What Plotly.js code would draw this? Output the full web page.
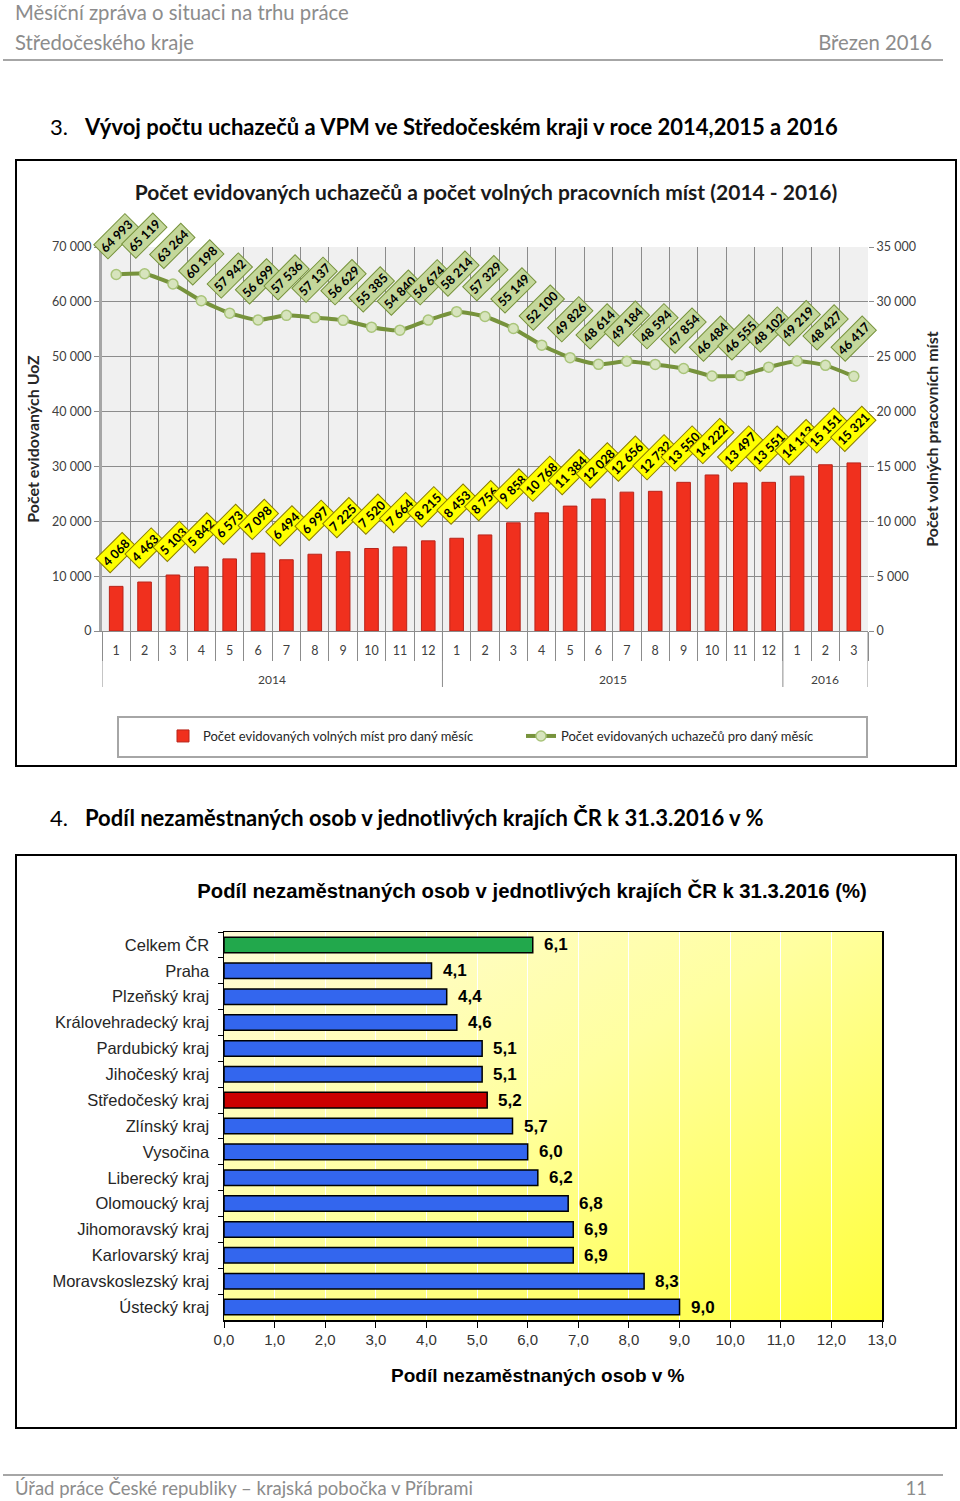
<!DOCTYPE html>
<html>
<head>
<meta charset="utf-8">
<script src="https://cdn.plot.ly/plotly-3.0.1.min.js"></script>
<style>
  html,body{margin:0;padding:0;background:#fff;}
  body{width:960px;height:1501px;position:relative;overflow:hidden;font-family:Lato,"Open Sans",sans-serif;}
  .t{position:absolute;white-space:nowrap;line-height:24px;}
  .hdr{color:#8c8c8c;font-size:20.3px;}
  .ftr{color:#8c8c8c;font-size:18.5px;}
  .sec{color:#000;font-size:22px;}
  .sec b{font-weight:700;}
  .rule{position:absolute;left:3px;width:940px;height:2px;background:#a6a6a6;}
  .box{position:absolute;left:15px;width:938px;border:2px solid #000;background:#fff;}
</style>
</head>
<body>
<div class="t hdr" style="left:15px;top:0px">Měsíční zpráva o situaci na trhu práce</div>
<div class="t hdr" style="left:15px;top:30px">Středočeského kraje</div>
<div class="t hdr" style="right:28px;top:30px">Březen 2016</div>
<div class="rule" style="top:59px"></div>

<div class="t sec" style="left:50px;top:115px">3.</div>
<div class="t sec" style="left:85px;top:115px"><b>Vývoj počtu uchazečů a VPM ve Středočeském kraji v roce 2014,2015 a 2016</b></div>

<div class="box" style="top:159px;height:604px"><div id="c1" style="width:938px;height:604px"></div></div>

<div class="t sec" style="left:50px;top:806px">4.</div>
<div class="t sec" style="left:85px;top:806px"><b>Podíl nezaměstnaných osob v jednotlivých krajích ČR k 31.3.2016 v %</b></div>

<div class="box" style="top:854px;height:571px"><div id="c2" style="width:938px;height:571px"></div></div>

<div class="rule" style="top:1474px"></div>
<div class="t ftr" style="left:15px;top:1476px">Úřad práce České republiky – krajská pobočka v Příbrami</div>
<div class="t ftr" style="right:33px;top:1476px">11</div>

<script>
// ---------- DATA: chart 1 ----------
const monthLabels = ['1','2','3','4','5','6','7','8','9','10','11','12',
                     '1','2','3','4','5','6','7','8','9','10','11','12',
                     '1','2','3'];
const yearLabels = ['2014','2015','2016'];
const monthsPerYear = [12, 12, 3];
const uchazeci = [64993, 65119, 63264, 60198, 57942, 56699, 57536, 57137, 56629, 55385, 54840, 56674,
                  58214, 57329, 55149, 52100, 49826, 48614, 49184, 48594, 47854, 46484, 46555, 48102,
                  49219, 48427, 46417];
const vpm = [4068, 4463, 5103, 5842, 6573, 7098, 6494, 6997, 7225, 7520, 7664, 8215,
             8453, 8756, 9858, 10768, 11384, 12028, 12656, 12732, 13550, 14222, 13497, 13551,
             14113, 15151, 15321];
const seriesNames = ['Počet evidovaných volných míst pro daný měsíc', 'Počet evidovaných uchazečů pro daný měsíc'];
const chart1Title = 'Počet evidovaných uchazečů a počet volných pracovních míst (2014 - 2016)';
const yLeftTitle = 'Počet evidovaných UoZ';
const yRightTitle = 'Počet volných pracovních míst';

// ---------- DATA: chart 2 ----------
const regions = ['Celkem ČR','Praha','Plzeňský kraj','Královehradecký kraj','Pardubický kraj','Jihočeský kraj',
                 'Středočeský kraj','Zlínský kraj','Vysočina','Liberecký kraj','Olomoucký kraj',
                 'Jihomoravský kraj','Karlovarský kraj','Moravskoslezský kraj','Ústecký kraj'];
const podil = [6.1, 4.1, 4.4, 4.6, 5.1, 5.1, 5.2, 5.7, 6.0, 6.2, 6.8, 6.9, 6.9, 8.3, 9.0];
const chart2Title = 'Podíl nezaměstnaných osob v jednotlivých krajích ČR k 31.3.2016 (%)';
const xTitle2 = 'Podíl nezaměstnaných osob v %';

// ---------- helpers ----------
const fmtThousands = v => String(v).replace(/\B(?=(\d{3})+(?!\d))/g, ' ');
const fmtDec = v => v.toFixed(1).replace('.', ',');
const idx = monthLabels.map((_, i) => i);

const yearBounds = [-0.5];
monthsPerYear.forEach(n => yearBounds.push(yearBounds[yearBounds.length - 1] + n));
const monthBounds = idx.map(i => i - 0.5).concat([idx.length - 0.5]);

const FONT = 'Lato, "Open Sans", sans-serif';
const GRID = '#8c8c8c';

// ---------- chart 1 ----------
const plotH1 = 604 - 86 - 134;
const ann1 = [];
uchazeci.forEach((v, i) => ann1.push({
  x: i, y: v, xref: 'x', yref: 'y', text: fmtThousands(v), showarrow: false,
  textangle: -45, yshift: 38, bgcolor: '#c4d79b', bordercolor: '#77933c', borderwidth: 1, borderpad: 2,
  font: {family: FONT, size: 12.5, color: '#000', weight: 'bold'}
}));
vpm.forEach((v, i) => ann1.push({
  x: i, y: v, xref: 'x', yref: 'y2', text: fmtThousands(v), showarrow: false,
  textangle: -45, yshift: 34, bgcolor: '#ffff00', bordercolor: '#8a7d00', borderwidth: 1, borderpad: 2,
  font: {family: FONT, size: 12.5, color: '#000', weight: 'bold'}
}));
yearLabels.forEach((yl, k) => ann1.push({
  x: (yearBounds[k] + yearBounds[k + 1]) / 2, xref: 'x', y: -48 / plotH1, yref: 'paper', yanchor: 'middle',
  text: yl, showarrow: false, font: {family: FONT, size: 12, color: '#404040'}
}));

const shapes1 = yearBounds.map(b => ({
  type: 'line', xref: 'x', yref: 'paper', x0: b, x1: b, y0: 0, y1: -56 / plotH1,
  line: {color: GRID, width: 1}
}));
shapes1.push({
  type: 'rect', xref: 'paper', yref: 'paper', x0: 0.0209, x1: 0.9987, y0: -0.224, y1: -0.328,
  line: {color: '#a6a6a6', width: 2}, fillcolor: '#ffffff', layer: 'below'
});

const traces1 = [
  {
    type: 'bar', x: idx, y: vpm, yaxis: 'y2', name: seriesNames[0], width: 0.48,
    marker: {color: '#f0301e', line: {color: '#b8241a', width: 1}}, hoverinfo: 'skip'
  },
  {
    type: 'scatter', mode: 'lines+markers', x: idx, y: uchazeci, yaxis: 'y', name: seriesNames[1],
    line: {color: '#77933c', width: 4, shape: 'spline', smoothing: 0.5},
    marker: {size: 10, color: '#d7e4bd', line: {color: '#a9c47a', width: 1.5}}, hoverinfo: 'skip'
  }
];

const layout1 = {
  width: 938, height: 604,
  margin: {l: 85, r: 87, t: 86, b: 134},
  paper_bgcolor: '#ffffff', plot_bgcolor: '#f0f0f0',
  separators: ', ',
  font: {family: FONT, color: '#404040'},
  title: {text: chart1Title, x: 0.5, xanchor: 'center', xref: 'container', y: 1 - 32 / 604, yanchor: 'middle',
          font: {family: FONT, size: 21, color: '#1a1a1a', weight: 'bold'}},
  showlegend: true,
  legend: {orientation: 'h', xref: 'container', yref: 'container', x: 146 / 938, y: 1 - (736 - 161) / 604,
           xanchor: 'left', yanchor: 'middle', bgcolor: 'rgba(0,0,0,0)', borderwidth: 0,
           entrywidth: 313, entrywidthmode: 'pixels', itemwidth: 30,
           font: {family: FONT, size: 13, color: '#262626'}},
  xaxis: {
    type: 'linear', range: [-0.5, idx.length - 0.5], tickmode: 'array', tickvals: idx, ticktext: monthLabels,
    ticks: '', showgrid: false, zeroline: false, showline: true, linecolor: GRID, linewidth: 1,
    ticklabelstandoff: 8, tickfont: {family: FONT, size: 12.5, color: '#404040'},
    minor: {tickmode: 'array', tickvals: monthBounds, ticks: 'outside', ticklen: 29, tickcolor: GRID,
            tickwidth: 1, showgrid: true, gridcolor: GRID, gridwidth: 1}
  },
  yaxis: {
    range: [0, 70000], dtick: 10000, tickformat: ',d', showgrid: true, gridcolor: GRID, gridwidth: 1,
    zeroline: false, showline: true, linecolor: '#a6a6a6', linewidth: 3,
    ticks: 'outside', ticklen: 5, tickcolor: GRID, tickfont: {family: FONT, size: 12.5, color: '#404040'},
    title: {text: yLeftTitle, standoff: 9, font: {family: FONT, size: 16, color: '#262626', weight: 'bold'}}
  },
  yaxis2: {
    range: [0, 35000], dtick: 5000, tickformat: ',d', overlaying: 'y', side: 'right', showgrid: false,
    zeroline: false, showline: false, ticks: 'outside', ticklen: 5, tickcolor: GRID,
    tickfont: {family: FONT, size: 12.5, color: '#404040'},
    title: {text: yRightTitle, standoff: 11, font: {family: FONT, size: 16, color: '#262626', weight: 'bold'}}
  },
  annotations: ann1,
  shapes: shapes1
};

Plotly.newPlot('c1', traces1, layout1, {staticPlot: true, displayModeBar: false});

// ---------- chart 2 ----------
const HIGHLIGHT = {'Celkem ČR': '#22a84c', 'Středočeský kraj': '#cc0000'};
const barColors = regions.map(r => HIGHLIGHT[r] || '#3366ee');
const ARIAL = '"Liberation Sans", Arial, sans-serif';
const plotW2 = 938 - 207 - 73, plotH2 = 571 - 76 - 107;

const ann2 = podil.map((v, i) => ({
  x: v, y: regions[i], xref: 'x', yref: 'y', text: fmtDec(v), showarrow: false,
  xanchor: 'left', xshift: 9, font: {family: ARIAL, size: 17, color: '#000', weight: 'bold'}
}));
ann2.push({
  text: xTitle2, xref: 'paper', yref: 'paper', x: (538 - 224) / plotW2, y: -55 / plotH2,
  xanchor: 'center', yanchor: 'middle', showarrow: false,
  font: {family: ARIAL, size: 19, color: '#000', weight: 'bold'}
});

const gradSvg = '<svg xmlns="http://www.w3.org/2000/svg" width="100" height="100" preserveAspectRatio="none">' +
  '<defs><linearGradient id="g" x1="0" y1="0" x2="1" y2="1">' +
  '<stop offset="0" stop-color="#fffbd8"/><stop offset="0.45" stop-color="#ffffa0"/><stop offset="1" stop-color="#ffff3a"/>' +
  '</linearGradient></defs><rect width="100" height="100" fill="url(#g)"/></svg>';

const layout2 = {
  width: 938, height: 571,
  margin: {l: 207, r: 73, t: 76, b: 107},
  paper_bgcolor: '#ffffff', plot_bgcolor: '#ffffc0',
  separators: ', ',
  title: {text: chart2Title, xref: 'container', x: (532 - 17) / 938, xanchor: 'center',
          y: 1 - 35 / 571, yanchor: 'middle', font: {family: ARIAL, size: 20.3, color: '#000', weight: 'bold'}},
  showlegend: false,
  images: [{source: 'data:image/svg+xml;charset=utf-8,' + encodeURIComponent(gradSvg),
            xref: 'paper', yref: 'paper', x: 0, y: 1, sizex: 1, sizey: 1, sizing: 'stretch',
            xanchor: 'left', yanchor: 'top', layer: 'below'}],
  xaxis: {
    range: [0, 13], dtick: 1, tickformat: '.1f', showgrid: true, gridcolor: '#ffffff', gridwidth: 1,
    zeroline: false, showline: true, linecolor: '#000', linewidth: 1.5, mirror: true,
    ticks: 'outside', ticklen: 6, tickcolor: '#000', ticklabelstandoff: -1,
    tickfont: {family: ARIAL, size: 15, color: '#333'}
  },
  yaxis: {
    type: 'category', autorange: 'reversed', showgrid: false, zeroline: false,
    showline: true, linecolor: '#000', linewidth: 1.5, mirror: true,
    ticks: 'outside', ticklen: 5, tickcolor: '#000', tickson: 'boundaries', ticklabelstandoff: 10,
    tickfont: {family: ARIAL, size: 16.5, color: '#262626'}
  },
  annotations: ann2
};

const traces2 = [{
  type: 'bar', orientation: 'h', x: podil, y: regions, width: 0.6,
  marker: {color: barColors, line: {color: '#000', width: 1.5}}, hoverinfo: 'skip'
}];

Plotly.newPlot('c2', traces2, layout2, {staticPlot: true, displayModeBar: false});
</script>
</body>
</html>
